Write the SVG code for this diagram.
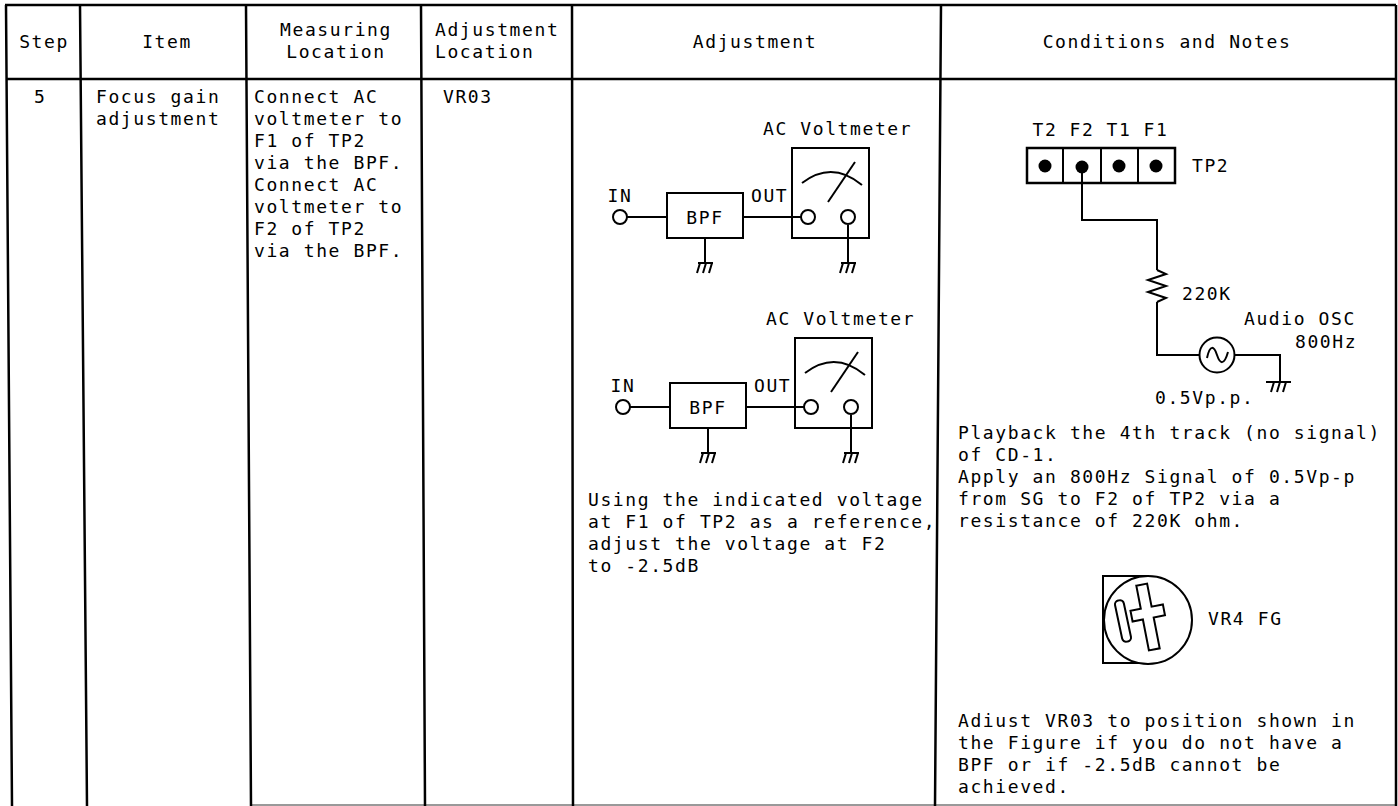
<svg xmlns="http://www.w3.org/2000/svg" width="1398" height="806" viewBox="0 0 1398 806">
<style>
text { font-family: "DejaVu Sans Mono", "Liberation Mono", monospace; font-size: 18px; letter-spacing: 1.6px; fill: #000; }
.c { text-anchor: middle; }
.tl { stroke: #000; stroke-width: 2.5; fill: none; }
.w { stroke: #000; stroke-width: 2; fill: none; }
.dot { fill: #000; }
</style>
<defs>
<g id="gnd"><path d="M -7 0 H 8 M -5 0 L -8 10 M 1 0 L -2 10 M 7 0 L 4 10" stroke="#000" stroke-width="2" fill="none"/></g>
</defs>
<rect width="1398" height="806" fill="#fff"/>

<g id="table">
<path class="tl" d="M 5 5 H 1396 M 6 79 H 1396"/>
<path d="M 250 805 H 1396" stroke="#777" stroke-width="1.5"/>
<path class="tl" d="M 6 5 L 12 806 M 80 5 L 87 806 M 246 5 L 251 806 M 421 5 L 425 806 M 572 5 L 573 806 M 941 5 L 935 806 M 1396 5 L 1396 806"/>
</g>

<g id="header">
<text x="44" y="48" class="c">Step</text>
<text x="167" y="48" class="c">Item</text>
<text x="336" y="36" class="c">Measuring</text>
<text x="336" y="58" class="c">Location</text>
<text x="435" y="36">Adjustment</text>
<text x="435" y="58">Location</text>
<text x="755" y="48" class="c">Adjustment</text>
<text x="1167" y="48" class="c">Conditions and Notes</text>
</g>

<g id="step">
<text x="34" y="103">5</text>
</g>
<g id="item">
<text x="96" y="103">Focus gain</text>
<text x="96" y="125">adjustment</text>
</g>
<g id="measuring">
<text x="254" y="103">Connect AC</text>
<text x="254" y="125">voltmeter to</text>
<text x="254" y="147">F1 of TP2</text>
<text x="254" y="169">via the BPF.</text>
<text x="254" y="191">Connect AC</text>
<text x="254" y="213">voltmeter to</text>
<text x="254" y="235">F2 of TP2</text>
<text x="254" y="257">via the BPF.</text>
</g>
<g id="adjloc">
<text x="443" y="103">VR03</text>
</g>

<g id="diagram1" transform="translate(620,217)">
<circle cx="0" cy="0" r="7" class="w"/>
<text x="0" y="-15" class="c">IN</text>
<rect x="47" y="-24" width="76" height="45" class="w"/>
<text x="85" y="7" class="c">BPF</text>
<text x="131" y="-15">OUT</text>
<rect x="172" y="-69" width="77" height="90" class="w"/>
<path class="w" d="M 182 -34 Q 212 -57 242 -32"/>
<path class="w" d="M 208 -15 L 235 -55"/>
<circle cx="188" cy="0" r="7" class="w"/>
<circle cx="228" cy="0" r="7" class="w"/>
<use href="#gnd" x="85" y="46"/>
<use href="#gnd" x="228" y="46"/>
<text x="143" y="-82">AC Voltmeter</text>
</g>

<g id="diagram2" transform="translate(623,407)">
<circle cx="0" cy="0" r="7" class="w"/>
<text x="0" y="-15" class="c">IN</text>
<rect x="47" y="-24" width="76" height="45" class="w"/>
<text x="85" y="7" class="c">BPF</text>
<text x="131" y="-15">OUT</text>
<rect x="172" y="-69" width="77" height="90" class="w"/>
<path class="w" d="M 182 -34 Q 212 -57 242 -32"/>
<path class="w" d="M 208 -15 L 235 -55"/>
<circle cx="188" cy="0" r="7" class="w"/>
<circle cx="228" cy="0" r="7" class="w"/>
<use href="#gnd" x="85" y="46"/>
<use href="#gnd" x="228" y="46"/>
<text x="143" y="-82">AC Voltmeter</text>
</g>

<g id="adjtext">
<text x="588" y="506">Using the indicated voltage</text>
<text x="588" y="528">at F1 of TP2 as a reference,</text>
<text x="588" y="550">adjust the voltage at F2</text>
<text x="588" y="572">to -2.5dB</text>
</g>

<g id="tp2">
<rect x="1027" y="148" width="148" height="35" stroke="#000" stroke-width="2.5" fill="none"/>
<path class="w" d="M 1063 148 V 183 M 1101 148 V 183 M 1138 148 V 183"/>
<circle class="dot" cx="1045" cy="166" r="6.5"/>
<circle class="dot" cx="1082" cy="167" r="6.5"/>
<circle class="dot" cx="1119" cy="166" r="6.5"/>
<circle class="dot" cx="1156" cy="166" r="6.5"/>
<text x="1045" y="136" class="c">T2</text>
<text x="1082" y="136" class="c">F2</text>
<text x="1119" y="136" class="c">T1</text>
<text x="1156" y="136" class="c">F1</text>
<text x="1192" y="172">TP2</text>
</g>

<g id="resistor">
<path class="w" d="M 1157 270 L 1166 274 L 1148 280 L 1166 286 L 1148 292 L 1166 298 L 1157 302"/>
<text x="1182" y="300">220K</text>
</g>

<g id="osc">
<circle cx="1217" cy="355" r="17.5" class="w"/>
<path class="w" d="M 1207 358 C 1210 344 1214 346 1217 355 C 1220 364 1224 366 1228 352"/>
<use href="#gnd" x="1279" y="382"/>
<path d="M 1266 382 H 1291" stroke="#000" stroke-width="2"/>
<text x="1244" y="325">Audio OSC</text>
<text x="1295" y="348">800Hz</text>
<text x="1155" y="404">0.5Vp.p.</text>
</g>

<g id="connectors">
<path class="w" d="M 627 217 H 667 M 743 217 H 801 M 705 238 V 263 M 848 225 V 263"/>
<path class="w" d="M 630 407 H 670 M 746 407 H 804 M 708 428 V 453 M 851 415 V 453"/>
<path class="w" d="M 1082 167 V 220 H 1157 V 270 M 1157 302 V 355 H 1199.5 M 1234.5 355 H 1280 V 382"/>
</g>

<g id="condtext">
<text x="958" y="439">Playback the 4th track (no signal)</text>
<text x="958" y="461">of CD-1.</text>
<text x="958" y="483">Apply an 800Hz Signal of 0.5Vp-p</text>
<text x="958" y="505">from SG to F2 of TP2 via a</text>
<text x="958" y="527">resistance of 220K ohm.</text>
</g>

<g id="vr4">
<path class="w" d="M 1148 576 H 1103 V 663 H 1148"/>
<circle cx="1148" cy="620" r="44" stroke="#000" stroke-width="2" fill="#fff"/>
<rect x="-4.5" y="-21" width="9" height="42" rx="4" class="w" transform="translate(1123,621) rotate(-12)"/>
<path class="w" transform="translate(1148,617) rotate(-11)" d="M -5.5 -33 H 5.5 V -9.5 H 17 V 1.5 H 5.5 V 33 H -5.5 V 1.5 H -16 V -9.5 H -5.5 Z"/>
<text x="1208" y="625">VR4 FG</text>
</g>

<g id="notetext">
<text x="958" y="727">Adiust VR03 to position shown in</text>
<text x="958" y="749">the Figure if you do not have a</text>
<text x="958" y="771">BPF or if -2.5dB cannot be</text>
<text x="958" y="793">achieved.</text>
</g>
</svg>
